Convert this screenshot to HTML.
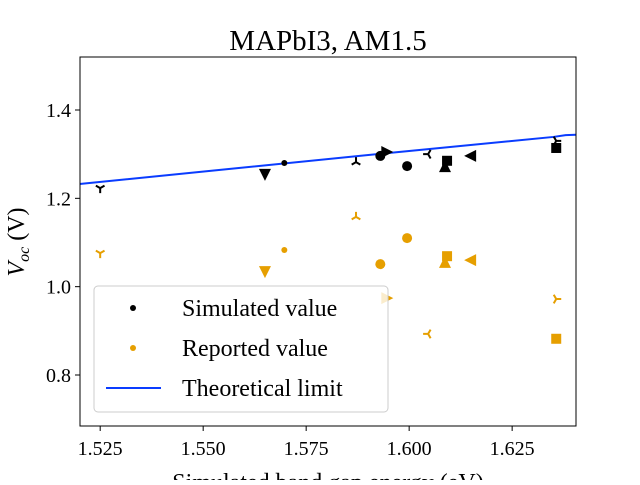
<!DOCTYPE html>
<html><head><meta charset="utf-8"><style>
body{margin:0;background:#fff}
svg text{font-family:"Liberation Serif",serif;fill:#000}
</style></head><body>
<svg id="chart" width="640" height="480" viewBox="0 0 640 480" xmlns="http://www.w3.org/2000/svg">
<rect width="640" height="480" fill="#fff"/>
<text x="328" y="50" font-size="29" text-anchor="middle">MAPbI3, AM1.5</text>
<g id="plot"></g>
<text x="328" y="490" font-size="24" text-anchor="middle">Simulated band gap energy (eV)</text>
<text transform="translate(24,242) rotate(-90)" font-size="24" text-anchor="middle"><tspan font-style="italic">V</tspan><tspan font-style="italic" font-size="16" dy="5">oc</tspan><tspan dy="-5"> (V)</tspan></text>
</svg>
<script>
const xTicks=[1.525,1.55,1.575,1.6,1.625];
const yTicks=[0.8,1.0,1.2,1.4];
const gaps=[1.525,1.565,1.5697,1.5871,1.593,1.5947,1.5995,1.6046,1.6092,1.6087,1.6148,1.6357,1.6357];
const markers=['tri_down','v','dot','tri_up','o','>','o','tri_left','s','^','<','tri_right','s'];
const simulated=[1.223,1.253,1.28,1.282,1.296,1.305,1.273,1.3,1.285,1.273,1.296,1.33,1.314];
const reported=[1.076,1.033,1.083,1.158,1.051,0.974,1.11,0.893,1.069,1.056,1.06,0.972,0.882];
const limitX=[1.52,1.5523,1.5975,1.635,1.638,1.6405];
const limitY=[1.2325,1.2626,1.305,1.339,1.343,1.344];
const L=80,R=576,T=57,B=426,xmin=1.5201,xmax=1.6405,ymin=0.6845,ymax=1.52;
const sx=v=>L+(v-xmin)/(xmax-xmin)*(R-L);
const sy=v=>B-(v-ymin)/(ymax-ymin)*(B-T);
const NS='http://www.w3.org/2000/svg';
const g=document.getElementById('plot');
function mk(tag,a,p){const e=document.createElementNS(NS,tag);for(const k in a)e.setAttribute(k,a[k]);(p||g).appendChild(e);return e;}
xTicks.forEach(v=>{const x=sx(v);
const t=mk('line',{x1:x,x2:x,y1:B,y2:B+5,stroke:'#000'});


const l=mk('text',{x:x,y:B+29,'font-size':20,'text-anchor':'middle'});l.textContent=v.toFixed(3);

});
yTicks.forEach(v=>{const y=sy(v);
const t=mk('line',{x1:L-5,x2:L,y1:y,y2:y,stroke:'#000'});


const l=mk('text',{x:L-9,y:y+7,'font-size':20,'text-anchor':'end'});l.textContent=v.toFixed(1);

});
const line=mk('polyline',{points:limitX.map((v,i)=>sx(v)+','+sy(limitY[i])).join(' '),fill:'none',stroke:'#0a3cff','stroke-width':2});


function marker(type,x,y,c){
 let e;const s=6;
 if(type==='o')e=mk('circle',{cx:x,cy:y,r:5,fill:c});
 else if(type==='dot')e=mk('circle',{cx:x,cy:y,r:3,fill:c});
 else if(type==='s')e=mk('rect',{x:x-5,y:y-5,width:10,height:10,fill:c});
 else if(type==='v')e=mk('polygon',{points:`${x-s},${y-s} ${x+s},${y-s} ${x},${y+s}`,fill:c});
 else if(type==='^')e=mk('polygon',{points:`${x-s},${y+s} ${x+s},${y+s} ${x},${y-s}`,fill:c});
 else if(type==='<')e=mk('polygon',{points:`${x+s},${y-s} ${x+s},${y+s} ${x-s},${y}`,fill:c});
 else if(type==='>')e=mk('polygon',{points:`${x-s},${y-s} ${x-s},${y+s} ${x+s},${y}`,fill:c});
 else{const ang={tri_down:[270,30,150],tri_up:[90,210,330],tri_left:[180,300,60],tri_right:[0,120,240]}[type];
  e=mk('path',{d:ang.map(a=>`M${x},${y}L${x+5*Math.cos(a*Math.PI/180)},${y-5*Math.sin(a*Math.PI/180)}`).join(''),stroke:c,'stroke-width':2,fill:'none'});}
 return e;}
gaps.forEach((v,i)=>{
 const a=marker(markers[i],sx(v),sy(simulated[i]),'#000');
 
 
 const b=marker(markers[i],sx(v),sy(reported[i]),'#e69f00');
 
 
});
const fr=mk('rect',{x:L,y:T,width:R-L,height:B-T,fill:'none',stroke:'#000','stroke-width':1});


const lg=mk('g',{});


mk('rect',{x:94,y:286,width:294,height:126,rx:4,fill:'rgba(255,255,255,0.8)',stroke:'#ccc'},lg);
const items=[['Simulated value','#000','dot',308],['Reported value','#e69f00','dot',348],['Theoretical limit','#0a3cff','line',388]];
items.forEach(it=>{
 const e=mk('g',{},lg);
 
 
 if(it[2]==='dot')mk('circle',{cx:133,cy:it[3],r:3,fill:it[1]},e);
 else mk('line',{x1:106,x2:161,y1:it[3],y2:it[3],stroke:it[1],'stroke-width':2},e);
 const t=mk('text',{x:182,y:it[3]+8,'font-size':24},e);t.textContent=it[0];
});
</script>
</body></html>
